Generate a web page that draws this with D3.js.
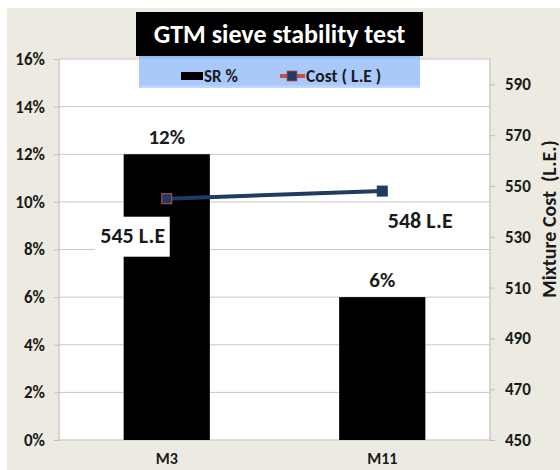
<!DOCTYPE html>
<html>
<head>
    <title>GTM sieve stability test</title>
    <script src="https://d3js.org/d3.v7.min.js"></script>
    <style>
        body { margin: 0; background: #ffffff; }
        svg { display: block; font-family: Carlito, Calibri, "Open Sans", "DejaVu Sans", sans-serif; }
    </style>
</head>
<body>
<script type="text/javascript">
    const w = 560;
    const h = 470;

    // chart values
    const mixes = ['M3', 'M11'];
    const srPercent = [12, 6];
    const costLE = [545, 548];
    const leftTicks = [0, 2, 4, 6, 8, 10, 12, 14, 16];
    const rightTicks = [450, 470, 490, 510, 530, 550, 570, 590];

    const plot = {left: 59, right: 490, top: 59, bottom: 440};

    const svg = d3.select('body').append('svg').attr('width', w).attr('height', h);

    // beige chart background and white plot area
    svg.append('rect')
        .attr('x', 7).attr('y', 8)
        .attr('width', w - 7).attr('height', h - 8)
        .attr('fill', '#edebe1');

    svg.append('rect')
        .attr('x', plot.left).attr('y', plot.top)
        .attr('width', plot.right - plot.left).attr('height', plot.bottom - plot.top)
        .attr('fill', '#ffffff');

    const xScale = d3.scaleBand()
        .domain(mixes)
        .range([plot.left, plot.right])
        .paddingInner(0.6)
        .paddingOuter(0.3);

    const xCenter = d => xScale(d) + xScale.bandwidth() / 2;

    const yLeft = d3.scaleLinear().domain([0, 16]).range([plot.bottom, plot.top]);
    const yRight = d3.scaleLinear().domain([450, 600]).range([plot.bottom, plot.top]);

    // gridlines
    svg.append('g')
        .selectAll('line')
        .data(leftTicks.slice(1))
        .enter()
        .append('line')
        .attr('x1', plot.left).attr('x2', plot.right)
        .attr('y1', d => yLeft(d)).attr('y2', d => yLeft(d))
        .attr('stroke', '#c8c8c8')
        .attr('stroke-width', 1);

    // left axis
    const leftAxis = d3.axisLeft(yLeft)
        .tickValues(leftTicks)
        .tickFormat(d => d + '%')
        .tickSize(5)
        .tickPadding(9);

    const gl = svg.append('g')
        .attr('transform', 'translate(' + plot.left + ',0)')
        .call(leftAxis);

    // right axis
    const rightAxis = d3.axisRight(yRight)
        .tickValues(rightTicks)
        .tickSize(5)
        .tickPadding(10);

    const gr = svg.append('g')
        .attr('transform', 'translate(' + plot.right + ',0)')
        .call(rightAxis);

    [gl, gr].forEach(g => {
        g.select('.domain').attr('stroke', '#bfbfbf').attr('stroke-width', 1.2);
        g.selectAll('.tick line').attr('stroke', '#bfbfbf');
        g.selectAll('.tick text')
            .attr('font-size', '17px')
            .attr('font-weight', 'bold')
            .attr('fill', '#1a1a1a')
            .attr('font-family', 'Carlito, "Open Sans", sans-serif');
    });
    gr.select('.domain').attr('d', 'M0,' + plot.top + 'V' + plot.bottom);
    gl.select('.domain').attr('d', 'M0,' + plot.top + 'V' + plot.bottom);

    // bottom axis line
    svg.append('line')
        .attr('x1', plot.left).attr('x2', plot.right)
        .attr('y1', plot.bottom).attr('y2', plot.bottom)
        .attr('stroke', '#bfbfbf').attr('stroke-width', 1.2);

    // bars
    svg.selectAll('rect.bar')
        .data(mixes)
        .enter()
        .append('rect')
        .attr('class', 'bar')
        .attr('x', d => xScale(d))
        .attr('y', (d, i) => yLeft(srPercent[i]))
        .attr('width', xScale.bandwidth())
        .attr('height', (d, i) => plot.bottom - yLeft(srPercent[i]))
        .attr('fill', '#000000');

    // category labels
    svg.selectAll('text.cat')
        .data(mixes)
        .enter()
        .append('text')
        .attr('class', 'cat')
        .attr('x', d => xCenter(d))
        .attr('y', 464)
        .attr('text-anchor', 'middle')
        .attr('font-size', '16px')
        .attr('font-weight', 'bold')
        .attr('fill', '#1a1a1a')
        .text(d => d);

    // bar value labels
    svg.selectAll('text.sr')
        .data(mixes)
        .enter()
        .append('text')
        .attr('class', 'sr')
        .attr('x', d => xCenter(d))
        .attr('y', (d, i) => yLeft(srPercent[i]) - 10)
        .attr('text-anchor', 'middle')
        .attr('font-size', '21px')
        .attr('font-weight', 'bold')
        .attr('fill', '#1a1a1a')
        .text((d, i) => srPercent[i] + '%');

    // cost line
    const line = d3.line()
        .x(d => xCenter(d))
        .y((d, i) => yRight(costLE[i]));

    svg.append('path')
        .datum(mixes)
        .attr('d', line)
        .attr('fill', 'none')
        .attr('stroke', '#1f3b61')
        .attr('stroke-width', 4);

    svg.selectAll('rect.mark')
        .data(mixes)
        .enter()
        .append('rect')
        .attr('class', 'mark')
        .attr('x', d => xCenter(d) - 5)
        .attr('y', (d, i) => yRight(costLE[i]) - 5)
        .attr('width', 10)
        .attr('height', 10)
        .attr('fill', '#1f3b61')
        .attr('stroke', (d, i) => i === 0 ? '#c0504d' : '#1f3b61')
        .attr('stroke-width', 1);

    // cost labels: first one sits on a white box over the bar
    const costLabelPos = [{dx: -34, dy: 44}, {dx: 38, dy: 37}];

    svg.append('rect')
        .attr('x', xCenter(mixes[0]) + costLabelPos[0].dx - 38)
        .attr('y', yRight(costLE[0]) + 18)
        .attr('width', 75)
        .attr('height', 40)
        .attr('fill', '#ffffff');

    svg.selectAll('text.cost')
        .data(mixes)
        .enter()
        .append('text')
        .attr('class', 'cost')
        .attr('x', (d, i) => xCenter(d) + costLabelPos[i].dx)
        .attr('y', (d, i) => yRight(costLE[i]) + costLabelPos[i].dy)
        .attr('text-anchor', 'middle')
        .attr('font-size', '22px')
        .attr('font-weight', 'bold')
        .attr('fill', '#1a1a1a')
        .text((d, i) => costLE[i] + ' L.E');

    // right axis title
    svg.append('text')
        .attr('transform', 'translate(551,219) rotate(-90)')
        .attr('text-anchor', 'middle')
        .attr('dominant-baseline', 'middle')
        .attr('font-size', '20px')
        .attr('font-weight', 'bold')
        .attr('fill', '#1a1a1a')
        .attr('xml:space', 'preserve')
        .text('Mixture Cost  (L.E.)');

    // legend band
    const grad = svg.append('defs').append('linearGradient')
        .attr('id', 'legGrad').attr('x1', 0).attr('x2', 0).attr('y1', 0).attr('y2', 1);
    grad.append('stop').attr('offset', '0%').attr('stop-color', '#8fb6ee');
    grad.append('stop').attr('offset', '12%').attr('stop-color', '#a9c9fa');
    grad.append('stop').attr('offset', '88%').attr('stop-color', '#a9c9fa');
    grad.append('stop').attr('offset', '100%').attr('stop-color', '#c6dbfb');

    svg.append('rect')
        .attr('x', 139).attr('y', 56)
        .attr('width', 281).attr('height', 32)
        .attr('fill', 'url(#legGrad)');

    svg.append('rect')
        .attr('x', 181).attr('y', 72)
        .attr('width', 22).attr('height', 8)
        .attr('fill', '#000000');

    svg.append('text')
        .attr('x', 204).attr('y', 82)
        .attr('font-size', '17px').attr('font-weight', 'bold')
        .attr('fill', '#1a1a1a')
        .text('SR %');

    svg.append('line')
        .attr('x1', 280).attr('x2', 305)
        .attr('y1', 76).attr('y2', 76)
        .attr('stroke', '#c0504d').attr('stroke-width', 4);

    svg.append('rect')
        .attr('x', 287).attr('y', 71)
        .attr('width', 10).attr('height', 10)
        .attr('fill', '#1f3b61')
        .attr('stroke', '#c0504d').attr('stroke-width', 0.8);

    svg.append('text')
        .attr('x', 306).attr('y', 82)
        .attr('font-size', '17.5px').attr('font-weight', 'bold')
        .attr('fill', '#1a1a1a')
        .text('Cost ( L.E )');

    // title box
    svg.append('rect')
        .attr('x', 136).attr('y', 12)
        .attr('width', 287).attr('height', 44)
        .attr('fill', '#000000');

    svg.append('text')
        .attr('x', 279.5).attr('y', 43)
        .attr('text-anchor', 'middle')
        .attr('font-size', '26px').attr('font-weight', 'bold')
        .attr('fill', '#ffffff')
        .text('GTM sieve stability test');
</script>
</body>
</html>
